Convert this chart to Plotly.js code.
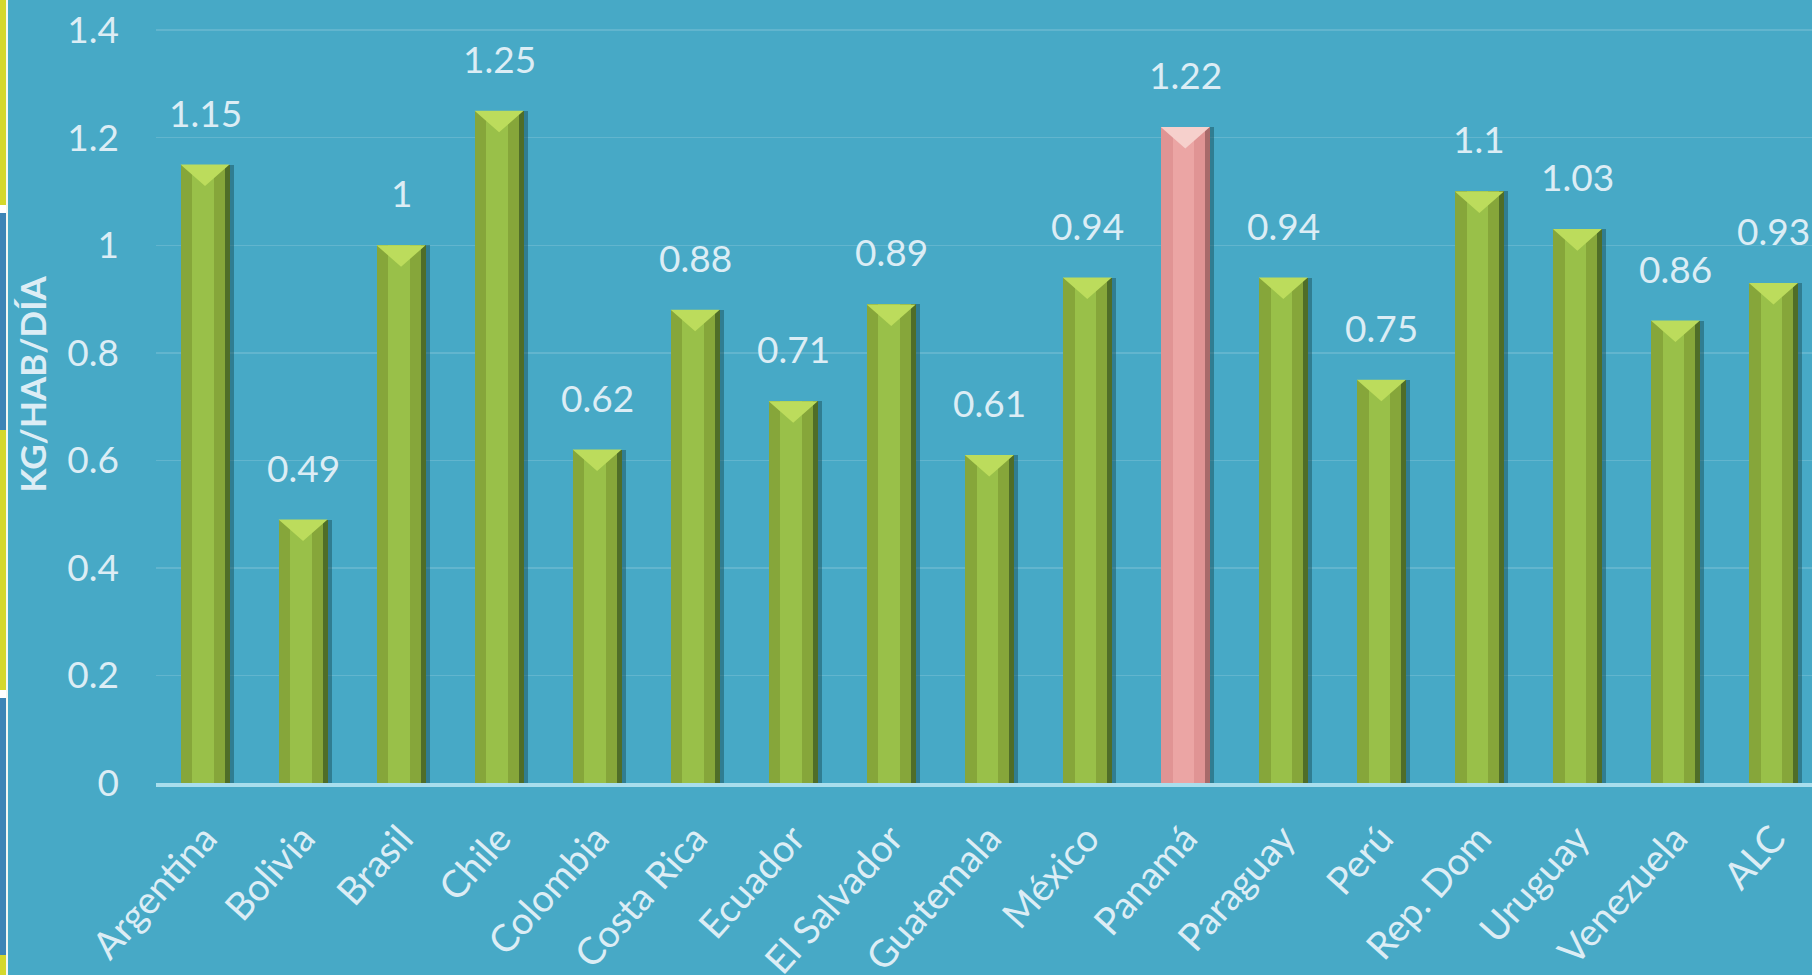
<!DOCTYPE html>
<html>
<head>
<meta charset="utf-8">
<script src="https://cdn.plot.ly/plotly-3.0.1.min.js"></script>
<style>
html,body{margin:0;padding:0;background:#47a9c6;overflow:hidden;}
#chart{width:1812px;height:975px;}
</style>
</head>
<body>
<div id="chart"></div>
<script>
// ---- data ----
const categories = ['Argentina','Bolivia','Brasil','Chile','Colombia','Costa Rica','Ecuador','El Salvador','Guatemala','México','Panamá','Paraguay','Perú','Rep. Dom','Uruguay','Venezuela','ALC'];
const values = [1.15, 0.49, 1, 1.25, 0.62, 0.88, 0.71, 0.89, 0.61, 0.94, 1.22, 0.94, 0.75, 1.1, 1.03, 0.86, 0.93];
const highlightCategory = 'Panamá';
const yTickVals = [0, 0.2, 0.4, 0.6, 0.8, 1, 1.2, 1.4];
const yTickText = ['0', '0.2', '0.4', '0.6', '0.8', '1', '1.2', '1.4'];
const yTitle = 'KG/HAB/DÍA';

// ---- derived ----
const idx = categories.map((_, i) => i);
const isHi = categories.map(c => c === highlightCategory);
const pick = (g, p) => isHi.map(h => (h ? p : g));

const BW = 0.5;          // bar width (category units)
const BEVEL = 0.04;      // bevel depth (value units)

function bevel(sel) {
  const xs = [], ys = [];
  idx.forEach(i => {
    if (!sel(i)) return;
    const v = values[i];
    xs.push(i - BW / 2, i + BW / 2, i, i - BW / 2, null);
    ys.push(v, v, v - BEVEL, v, null);
  });
  return { xs, ys };
}
const bvG = bevel(i => !isHi[i]);
const bvP = bevel(i => isHi[i]);

const FONT = 'Lato, "Open Sans", "Liberation Sans", sans-serif';
const TXT = '#dcedf5';

const traces = [
  { type: 'bar', x: idx, y: values, width: BW, offset: -BW / 2 + 0.045,
    marker: { color: 'rgba(20,70,80,0.45)', line: { width: 0 } }, hoverinfo: 'skip' },
  { type: 'bar', x: idx, y: values, width: BW, offset: -BW / 2,
    marker: { color: pick('#86a63a', '#e09494'), line: { width: 0 } } },
  { type: 'bar', x: idx, y: values, width: 0.22, offset: -0.13,
    marker: { color: pick('#99c049', '#eba5a4'), line: { width: 0 } }, hoverinfo: 'skip' },
  { type: 'bar', x: idx, y: values, width: 0.05, offset: BW / 2 - 0.05,
    marker: { color: pick('#4f6d28', '#a86a6a'), line: { width: 0 } }, hoverinfo: 'skip' },
  { type: 'scatter', mode: 'lines', x: bvG.xs, y: bvG.ys, fill: 'toself',
    fillcolor: '#bcdc5c', line: { width: 0, color: 'rgba(0,0,0,0)' }, hoverinfo: 'skip' },
  { type: 'scatter', mode: 'lines', x: bvP.xs, y: bvP.ys, fill: 'toself',
    fillcolor: '#f6d0cc', line: { width: 0, color: 'rgba(0,0,0,0)' }, hoverinfo: 'skip' }
];

const annotations = idx.map(i => ({
  x: i, y: values[i], xref: 'x', yref: 'y',
  text: String(values[i]), showarrow: false,
  yanchor: 'bottom', yshift: 28,
  font: { family: FONT, size: 37, color: TXT }
}));
annotations.push({
  xref: 'paper', yref: 'paper', x: 0, y: 0.5, xanchor: 'center', yanchor: 'middle',
  xshift: -125, yshift: 21, textangle: -90, showarrow: false,
  text: '<b>' + yTitle + '</b>',
  font: { family: FONT, size: 35, color: TXT }
});

// decorative left stripe (pixel rows converted to paper coords)
const PT = 28, PB = 783, PH = PB - PT;
const py = p => (PB - p) / PH;
const stripeSegs = [
  [0, 205, '#d4d82c'], [205, 213, '#ffffff'], [213, 430, '#3d85b6'],
  [430, 690, '#d4d82c'], [690, 698, '#ffffff'], [698, 955, '#3d85b6'], [955, 975, '#d4d82c']
];
const shapes = stripeSegs.map(s => ({
  type: 'rect', xref: 'paper', yref: 'paper', xsizemode: 'pixel', xanchor: 0,
  x0: -156, x1: -150, y0: py(s[1]), y1: py(s[0]),
  fillcolor: s[2], line: { width: 0 }, layer: 'above'
}));
shapes.push({
  type: 'rect', xref: 'paper', yref: 'paper', xsizemode: 'pixel', xanchor: 0,
  x0: -150, x1: -148, y0: py(975), y1: py(0),
  fillcolor: '#f4f8f2', line: { width: 0 }, layer: 'above'
});

const layout = {
  width: 1812, height: 975,
  margin: { l: 155.5, r: 0, t: PT, b: 975 - PB },
  paper_bgcolor: '#47a9c6', plot_bgcolor: '#47a9c6',
  barmode: 'overlay', showlegend: false, bargap: 0,
  xaxis: {
    range: [-0.5, 16.393], tickvals: idx, ticktext: categories,
    tickangle: -48, showgrid: false, zeroline: false,
    showline: true, linecolor: '#a9deed', linewidth: 4, layer: 'above traces',
    ticks: '', ticklabelstandoff: 14,
    tickfont: { family: FONT, size: 38, color: TXT }, fixedrange: true
  },
  yaxis: {
    range: [0, 1.404], tickvals: yTickVals, ticktext: yTickText,
    showgrid: true, gridcolor: 'rgba(255,255,255,0.15)', gridwidth: 1.5,
    zeroline: false, showline: false, ticks: '', ticklabelstandoff: 36,
    tickfont: { family: FONT, size: 37, color: TXT }, fixedrange: true
  },
  annotations, shapes,
  font: { family: FONT, color: TXT }
};

Plotly.newPlot('chart', traces, layout, { displayModeBar: false, staticPlot: true });
</script>
</body>
</html>
